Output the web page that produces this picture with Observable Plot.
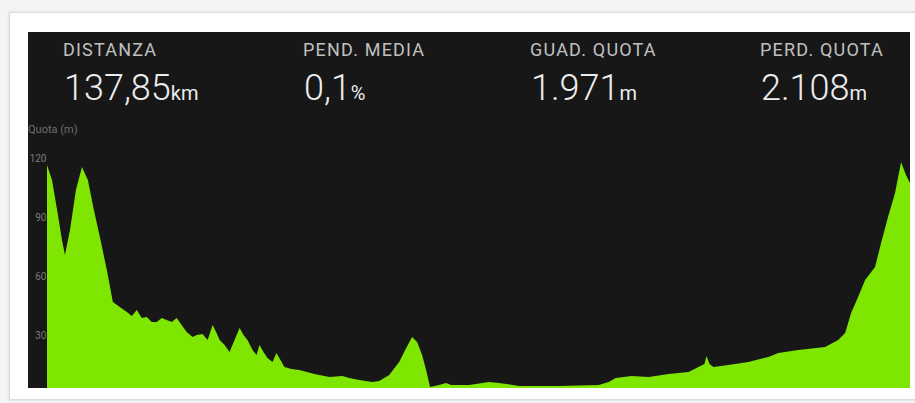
<!DOCTYPE html>
<html>
<head>
<meta charset="utf-8">
<script src="https://cdn.jsdelivr.net/npm/d3@7"></script>
<script src="https://cdn.jsdelivr.net/npm/@observablehq/plot@0.6"></script>
<style>
  html, body { margin: 0; padding: 0; background: #f4f4f4; width: 915px; height: 403px; overflow: hidden; font-family: Roboto, "Noto Sans", sans-serif; }
  #card { position: absolute; left: 9px; top: 12px; width: 920px; height: 386px; background: #ffffff; border: 1px solid #dcdcdc; box-shadow: 0 0 3px rgba(0,0,0,0.12); }
  #panel { position: absolute; left: 28px; top: 32px; width: 882px; height: 356px; background: #171717; overflow: hidden; }
  .lab { position: absolute; top: 7px; font-size: 18px; color: #c0c0c0; white-space: nowrap; letter-spacing: 1.2px; }
  .val { position: absolute; top: 35px; font-size: 36px; font-weight: 300; color: #ececec; white-space: nowrap; letter-spacing: 0; }
  .unit { font-size: 20px; font-weight: 400; letter-spacing: 0; }
  #ylab { position: absolute; left: 0px; top: 91px; font-size: 11px; color: #6e6e6e; }
  #chart { position: absolute; left: 0; top: 88px; }
</style>
</head>
<body>
<div id="card"></div>
<div id="panel">
  <div id="stats"></div>
  <div id="ylab">Quota (m)</div>
  <div id="chart"></div>
</div>
<script>
const statLabels = ["DISTANZA", "PEND. MEDIA", "GUAD. QUOTA", "PERD. QUOTA"];
const statValues = ["137,85", "0,1", "1.971", "2.108"];
const statUnits = ["km", "%", "m", "m"];

const yTicks = [120, 90, 60, 30];

const km = [0,0.8,1.75,2.39,2.87,3.67,4.62,5.58,6.53,7.49,
  8.45,9.56,10.52,11.63,12.75,13.55,14.34,15.14,15.94,16.73,
  17.53,18.33,19.12,19.92,20.72,21.51,22.31,23.27,23.9,24.86,
  25.66,26.45,27.09,27.57,28.37,29.16,29.96,30.76,31.39,32.03,
  32.83,33.47,33.94,34.58,35.22,36.02,36.65,37.29,37.93,39.04,
  40.32,42.71,45.1,47.17,48.29,49.88,51.95,53.07,54.66,56.25,
  57.37,58.33,59.12,59.92,60.56,61.19,62.63,63.74,64.54,67.41,
  70.6,72.19,75.38,81.75,88.13,89.72,90.84,93.39,96.1,99.28,
  102.47,104.06,105.02,105.34,105.82,106.45,108.84,112.03,115.22,116.81,
  120,124.3,126.37,127.49,128.44,129.56,130.68,132.27,133.23,134.34,
  135.46,136.42,137.21,137.85];

const quota = [116.4,108.8,91.0,78.3,70.7,83.4,103.7,115.4,108.8,93.5,
  79.8,63.0,46.8,44.2,41.7,39.7,42.7,38.6,39.1,36.6,
  36.6,38.6,37.6,36.6,38.6,35.1,31.5,29.0,30.0,30.5,
  27.5,35.1,31.0,27.5,24.9,21.4,27.5,33.6,30.0,27.5,
  22.4,19.8,24.9,21.4,18.3,16.3,20.8,17.3,13.7,12.7,
  12.2,10.2,8.6,9.2,8.1,7.1,6.1,6.6,9.7,16.3,
  23.4,29.0,26.4,19.8,12.2,3.6,4.6,5.6,4.6,4.6,
  6.1,5.6,4.1,4.1,4.6,6.1,8.1,9.2,8.6,10.2,
  11.2,13.7,15.3,19.3,15.3,13.7,14.7,16.3,18.8,20.8,
  22.4,23.9,27.5,31.0,41.2,49.3,58.0,64.6,76.8,90.0,
  102.2,117.9,111.3,107.3];

// header stats
const statX = [35, 275, 502, 732];
const stats = document.getElementById("stats");
statLabels.forEach((l, i) => {
  const lab = document.createElement("div");
  lab.className = "lab";
  lab.style.left = statX[i] + "px";
  lab.textContent = l;
  stats.appendChild(lab);
  const val = document.createElement("div");
  val.className = "val";
  val.style.left = (statX[i] + 1) + "px";
  val.textContent = statValues[i];
  const u = document.createElement("span");
  u.className = "unit";
  u.textContent = statUnits[i];
  val.appendChild(u);
  stats.appendChild(val);
});

const data = km.map((k, i) => ({km: k, quota: quota[i]}));

const chart = Plot.plot({
  width: 882,
  height: 268,
  marginLeft: 19,
  marginRight: 0,
  marginTop: 0,
  marginBottom: 0,
  style: {background: "transparent", color: "#7a7a7a", fontSize: "10px", fontFamily: "Roboto, sans-serif"},
  x: {domain: [0, 137.85], range: [19, 882], axis: null},
  y: {domain: [0, 120], range: [274, 38], ticks: yTicks, tickSize: 0, tickPadding: 1, label: null},
  marks: [
    Plot.areaY(data, {x: "km", y: "quota", fill: "#7ee600", curve: "linear"})
  ]
});
chart.style.overflow = "hidden";
document.getElementById("chart").appendChild(chart);
</script>
</body>
</html>
